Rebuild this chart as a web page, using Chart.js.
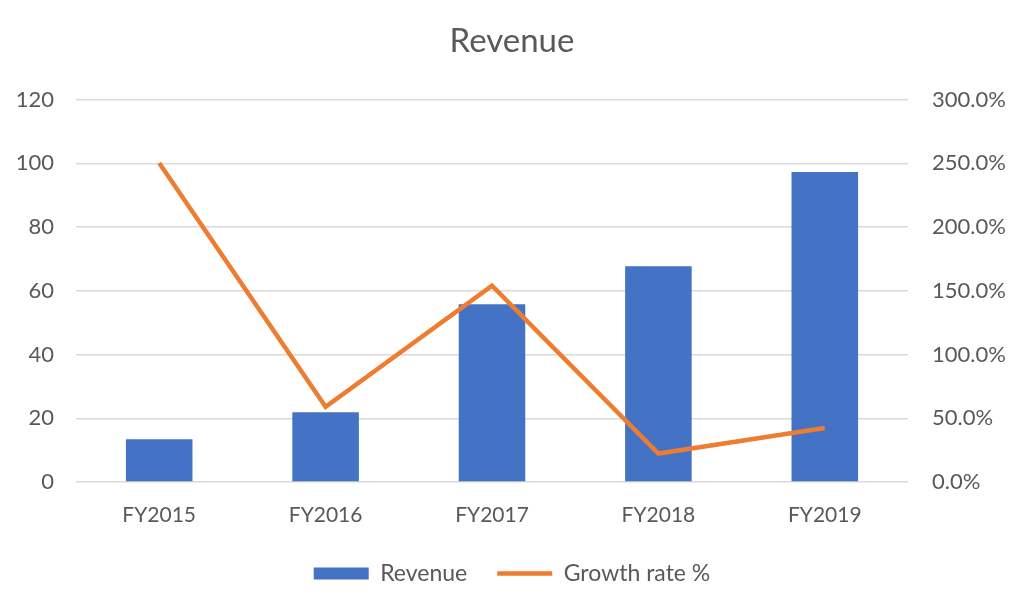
<!DOCTYPE html>
<html>
<head>
<meta charset="utf-8">
<script src="https://cdn.jsdelivr.net/npm/chart.js@4.4.0/dist/chart.umd.min.js"></script>
<style>
    html, body { margin: 0; padding: 0; background: #fff; }
    #wrap { width: 1024px; height: 611px; }
</style>
</head>
<body>
<div id="wrap"><canvas id="revChart" width="1024" height="611"></canvas></div>
<script>
// Data
const years = ['FY2015', 'FY2016', 'FY2017', 'FY2018', 'FY2019'];
const revenue = [13.4, 21.9, 55.8, 67.7, 97.3];
const growthRate = [250.3, 59.0, 154.0, 22.3, 42.4];

const textColor = '#595959';
const gridColor = '#d9d9d9';
const fontFamily = 'Lato, "Open Sans", sans-serif';

const ctx = document.getElementById('revChart').getContext('2d');

new Chart(ctx, {
    data: {
        labels: years,
        datasets: [
            {
                type: 'line',
                label: 'Growth rate %',
                data: growthRate,
                yAxisID: 'yRight',
                borderColor: '#ED7D31',
                backgroundColor: '#ED7D31',
                borderWidth: 4.5,
                pointRadius: 0,
                tension: 0,
                order: 0,
                pointStyle: 'line'
            },
            {
                type: 'bar',
                label: 'Revenue',
                data: revenue,
                yAxisID: 'yLeft',
                backgroundColor: '#4472C4',
                borderWidth: 0,
                barPercentage: 0.4,
                categoryPercentage: 1.0,
                order: 1,
                pointStyle: 'rect'
            }
        ]
    },
    options: {
        responsive: false,
        animation: false,
        layout: { padding: { left: 0, right: 0, top: 0, bottom: 16 } },
        plugins: {
            title: {
                display: true,
                text: 'Revenue',
                color: textColor,
                font: { family: fontFamily, size: 33, weight: 'normal' },
                padding: { top: 22, bottom: 38 }
            },
            legend: {
                position: 'bottom',
                reverse: true,
                labels: {
                    usePointStyle: true,
                    pointStyleWidth: 55,
                    boxHeight: 12,
                    padding: 30,
                    color: textColor,
                    font: { family: fontFamily, size: 23 }
                }
            },
            tooltip: { enabled: false }
        },
        scales: {
            x: {
                grid: { display: false },
                border: { display: false },
                ticks: {
                    color: textColor,
                    font: { family: fontFamily, size: 21 },
                    padding: 13
                },
                afterFit: (scale) => { scale.height = 50; }
            },
            yLeft: {
                position: 'left',
                min: 0,
                max: 120,
                grid: { color: gridColor, lineWidth: 1.5, drawTicks: false },
                border: { display: false },
                ticks: {
                    stepSize: 20,
                    color: textColor,
                    font: { family: fontFamily, size: 22 },
                    padding: 22
                },
                afterFit: (scale) => { scale.width = 76; }
            },
            yRight: {
                position: 'right',
                min: 0,
                max: 300,
                grid: { display: false },
                border: { display: false },
                ticks: {
                    stepSize: 50,
                    color: textColor,
                    font: { family: fontFamily, size: 22 },
                    padding: 16,
                    callback: (v) => v.toFixed(1) + '%'
                },
                afterFit: (scale) => { scale.width = 116; }
            }
        }
    }
});
</script>
</body>
</html>
